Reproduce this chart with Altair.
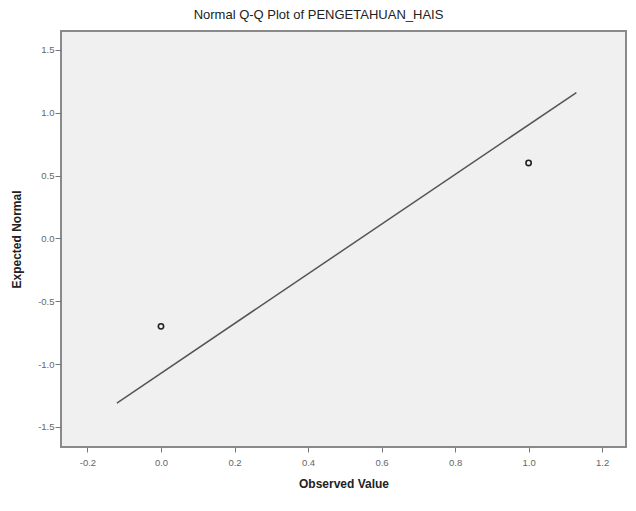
import altair as alt
import pandas as pd

# Data
obs_values = [0.0, 1.0]
expected_normal = [-0.70, 0.60]
line_x = [-0.12, 1.13]
line_y = [-1.31, 1.16]
x_ticks = [-0.2, 0.0, 0.2, 0.4, 0.6, 0.8, 1.0, 1.2]
y_ticks = [-1.5, -1.0, -0.5, 0.0, 0.5, 1.0, 1.5]

pts = pd.DataFrame({"x": obs_values, "y": expected_normal})
ln = pd.DataFrame({"x": line_x, "y": line_y})

FONT = "Liberation Sans"
HYPHEN_EXPR = "replace(datum.label, '\u2212', '-')"

xscale = alt.Scale(domain=[-0.272, 1.265], nice=False, zero=False)
yscale = alt.Scale(domain=[-1.66, 1.65], nice=False, zero=False)

xaxis = alt.Axis(values=x_ticks, format=".1f", labelExpr=HYPHEN_EXPR,
                 title="Observed Value",
                 grid=False, domain=False, tickColor="#777", tickSize=5,
                 labelColor="#666", labelFontSize=9.5, labelFont=FONT,
                 labelPadding=5, titleFont=FONT, titleFontSize=12,
                 titleFontWeight="bold", titleColor="#222", titlePadding=12)
yaxis = alt.Axis(values=y_ticks, format=".1f", labelExpr=HYPHEN_EXPR,
                 title="Expected Normal",
                 grid=False, domain=False, tickColor="#777", tickSize=6,
                 labelColor="#666", labelFontSize=9.5, labelFont=FONT,
                 labelPadding=1, titleFont=FONT, titleFontSize=12,
                 titleFontWeight="bold", titleColor="#222", titlePadding=14)

line = alt.Chart(ln).mark_line(color="#555555", strokeWidth=1.5).encode(
    x=alt.X("x:Q", scale=xscale, axis=xaxis),
    y=alt.Y("y:Q", scale=yscale, axis=yaxis),
)

points = alt.Chart(pts).mark_point(shape="circle", filled=False, color="#222222",
                                   size=28, strokeWidth=1.6, opacity=1).encode(
    x=alt.X("x:Q", scale=xscale),
    y=alt.Y("y:Q", scale=yscale),
)

chart = (line + points).properties(
    width=565,
    height=416,
    autosize=alt.AutoSizeParams(type="none"),
    padding={"left": 53, "top": 23, "right": 2, "bottom": 56},
    title=alt.TitleParams("Normal Q-Q Plot of PENGETAHUAN_HAIS", font=FONT,
                          fontSize=13, fontWeight="normal", color="#222",
                          anchor="middle", dx=-25, offset=9),
    background="white",
).configure_view(
    fill="#f0f0f0", stroke="#8a8a8a", strokeWidth=2
)

chart.save("out.html", embed_options={"renderer": "svg", "actions": False})
